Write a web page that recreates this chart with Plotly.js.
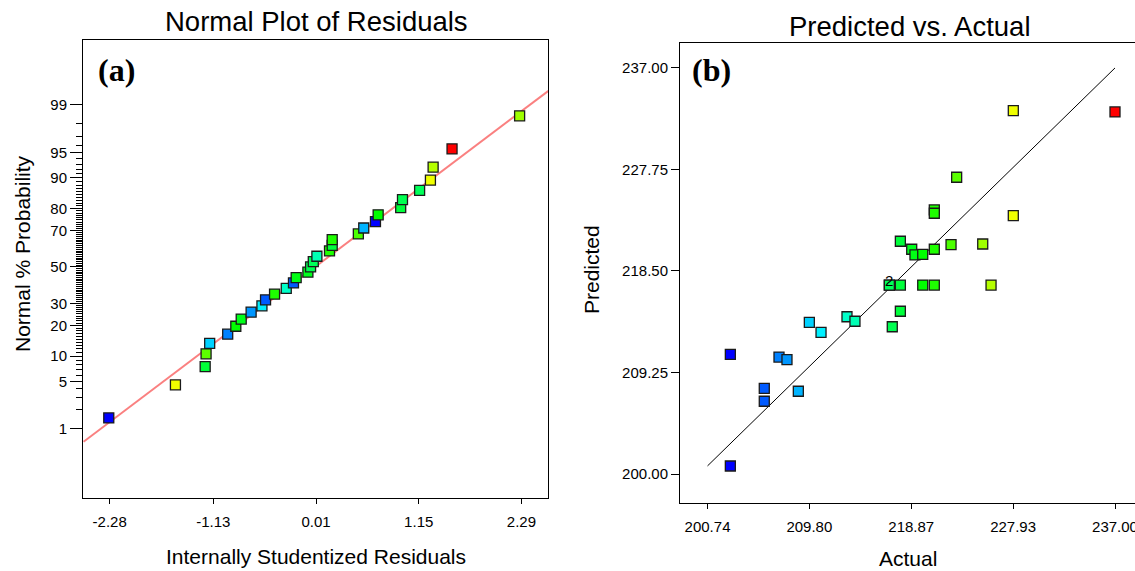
<!DOCTYPE html>
<html>
<head>
<meta charset="utf-8">
<script src="https://cdn.plot.ly/plotly-3.0.1.min.js"></script>
<style>html,body{margin:0;padding:0;background:#fff;}#chart{width:1135px;height:571px;}</style>
</head>
<body>
<div id="chart"></div>
<script>
// ---------- Panel (a): Normal plot of residuals ----------
const residX = [-2.29, -1.55, -1.22, -1.21, -1.17, -0.97, -0.88, -0.82, -0.71, -0.59, -0.55,
  -0.45, -0.32, -0.24, -0.21, -0.08, -0.05, -0.02, 0.02, 0.16, 0.19, 0.19, 0.48, 0.54,
  0.67, 0.70, 0.95, 0.97, 1.16, 1.28, 1.31, 1.52, 2.27];
const residPct = [1.5, 4.5, 7.6, 10.6, 13.6, 16.7, 19.7, 22.7, 25.8, 28.8, 31.8,
  34.8, 37.9, 40.9, 43.9, 47.0, 50.0, 53.0, 56.1, 59.1, 62.1, 65.2, 68.2, 71.2,
  74.2, 77.3, 80.3, 83.3, 86.4, 89.4, 92.4, 95.5, 98.5];
const residActual = [202.77, 227.95, 218.0, 223.0, 209.8, 207.1, 219.9, 219.0, 207.8, 210.8, 205.79,
  220.9, 213.15, 205.79, 219.2, 218.9, 217.2, 216.9, 213.86, 220.9, 217.9, 220.9, 222.4, 208.8,
  202.77, 219.9, 217.9, 217.2, 216.9, 227.95, 225.97, 237.0, 225.2];
const normLineX = [-2.57, 2.59];
const normLinePct = [0.6, 99.43];
const probTickPct = [1, 5, 10, 20, 30, 50, 70, 80, 90, 95, 99];
const residTickVals = [-2.28, -1.13, 0.01, 1.15, 2.29];
const residTickText = ["-2.28", "-1.13", "0.01", "1.15", "2.29"];

// ---------- Panel (b): Predicted vs. Actual ----------
const actual = [202.77, 202.77, 205.79, 205.79, 207.10, 207.81, 208.82, 209.80, 210.84, 213.15,
  213.86, 216.92, 216.92, 217.18, 217.90, 217.90, 217.90, 218.91, 219.20, 219.89, 219.89,
  220.92, 220.92, 220.92, 220.92, 222.41, 222.91, 225.23, 225.97, 227.95, 227.95, 237.00];
const predicted = [210.91, 200.73, 207.81, 206.63, 210.66, 210.42, 207.54, 213.82, 212.91, 214.33,
  213.92, 217.22, 217.22, 213.42, 221.21, 217.22, 214.83, 220.48, 219.96, 220.02, 217.22,
  224.06, 223.76, 220.48, 217.22, 220.91, 227.04, 220.96, 217.22, 233.11, 223.54, 232.99];
const refLine = [200.74, 237.00];
const actualTicks = [200.74, 209.80, 218.87, 227.93, 237.00];
const actualTickText = ["200.74", "209.80", "218.87", "227.93", "237.00"];
const predTicks = [200.00, 209.25, 218.50, 227.75, 237.00];
const predTickText = ["200.00", "209.25", "218.50", "227.75", "237.00"];
const dupPointLabel = {x: 216.92, y: 217.22, text: "2"};

// inverse normal CDF (Acklam)
function probit(p) {
  const a = [-3.969683028665376e+01, 2.209460984245205e+02, -2.759285104469687e+02, 1.383577518672690e+02, -3.066479806614716e+01, 2.506628277459239e+00];
  const b = [-5.447609879822406e+01, 1.615858368580409e+02, -1.556989798598866e+02, 6.680131188771972e+01, -1.328068155288572e+01];
  const c = [-7.784894002430293e-03, -3.223964580411365e-01, -2.400758277161838e+00, -2.549732539343734e+00, 4.374664141464968e+00, 2.938163982698783e+00];
  const d = [7.784695709041462e-03, 3.224671290700398e-01, 2.445134137142996e+00, 3.754408661907416e+00];
  const pl = 0.02425, ph = 1 - pl;
  let q, r;
  if (p < pl) { q = Math.sqrt(-2 * Math.log(p)); return (((((c[0]*q+c[1])*q+c[2])*q+c[3])*q+c[4])*q+c[5]) / ((((d[0]*q+d[1])*q+d[2])*q+d[3])*q+1); }
  if (p <= ph) { q = p - 0.5; r = q*q; return (((((a[0]*r+a[1])*r+a[2])*r+a[3])*r+a[4])*r+a[5])*q / (((((b[0]*r+b[1])*r+b[2])*r+b[3])*r+b[4])*r+1); }
  q = Math.sqrt(-2 * Math.log(1 - p));
  return -(((((c[0]*q+c[1])*q+c[2])*q+c[3])*q+c[4])*q+c[5]) / ((((d[0]*q+d[1])*q+d[2])*q+d[3])*q+1);
}
const z = pct => probit(pct / 100);

// all probability ticks (major labelled, minor unlabelled) on the native axis
const allPct = [];
for (let p = 1; p <= 99; p++) allPct.push(p);
const allTickVals = allPct.map(z);
const allTickText = allPct.map(p => probTickPct.indexOf(p) >= 0 ? String(p) : '');

const W = 1135, H = 571;
const cmin = Math.min(...actual), cmax = Math.max(...actual);
const rainbow = [[0, '#0000ff'], [0.25, '#00ffff'], [0.5, '#00ff00'], [0.75, '#ffff00'], [1, '#ff0000']];
const FONT = 'Liberation Sans, Arial, sans-serif';

const markerBase = {symbol: 'square', size: 10, colorscale: rainbow, cmin: cmin, cmax: cmax,
  showscale: false, line: {color: '#1a1a1a', width: 1.3}};

const traces = [
  {x: normLineX, y: normLinePct.map(z), mode: 'lines', xaxis: 'x', yaxis: 'y3',
   line: {color: 'rgba(0,0,0,0)', width: 0}, showlegend: false},
  {x: normLineX, y: normLinePct.map(z), mode: 'lines', xaxis: 'x', yaxis: 'y',
   line: {color: 'rgb(250,128,128)', width: 2}, showlegend: false},
  {x: residX, y: residPct.map(z), mode: 'markers', xaxis: 'x', yaxis: 'y',
   marker: Object.assign({}, markerBase, {color: residActual}), showlegend: false},
  {x: refLine, y: refLine, mode: 'lines', xaxis: 'x2', yaxis: 'y2',
   line: {color: '#000', width: 1}, showlegend: false},
  {x: actual, y: predicted, mode: 'markers', xaxis: 'x2', yaxis: 'y2',
   marker: Object.assign({}, markerBase, {color: actual}), showlegend: false}
];

const axCommon = {showline: true, linecolor: '#000', linewidth: 1, mirror: true, showgrid: false,
  zeroline: false, ticks: 'outside', tickcolor: '#000', tickfont: {family: FONT, size: 15, color: '#000'},
  tickmode: 'array'};

const yRangeA = [-3.32, 3.26];

const layout = {
  width: W, height: H, margin: {l: 0, r: 0, t: 0, b: 0},
  paper_bgcolor: '#fff', plot_bgcolor: '#fff', showlegend: false,
  xaxis: Object.assign({}, axCommon, {domain: [83 / W, 548 / W], range: [-2.576, 2.585], anchor: 'y',
    tickvals: residTickVals, ticktext: residTickText, ticklen: 5, ticklabelstandoff: 5}),
  yaxis: Object.assign({}, axCommon, {domain: [1 - 498 / H, 1 - 40 / H], range: yRangeA, anchor: 'x',
    tickvals: allTickVals, ticktext: allTickText, ticklen: 6, ticklabelstandoff: 6}),
  yaxis3: {overlaying: 'y', anchor: 'x', side: 'left', range: yRangeA, tickmode: 'array',
    tickvals: probTickPct.map(z), ticktext: probTickPct.map(() => ''), ticks: 'outside', ticklen: 12,
    tickcolor: '#000', tickwidth: 1, showline: false, showgrid: false, zeroline: false},
  xaxis2: Object.assign({}, axCommon, {domain: [680 / W, 1], range: [198.29, 238.78], anchor: 'y2',
    tickvals: actualTicks, ticktext: actualTickText, ticklen: 5, ticklabelstandoff: 5, ticklabeloverflow: 'allow'}),
  yaxis2: Object.assign({}, axCommon, {domain: [1 - 503 / H, 1 - 42.7 / H], range: [197.36, 239.30], anchor: 'x2',
    tickvals: predTicks, ticktext: predTickText, ticklen: 8}),
  annotations: [
    {text: 'Normal Plot of Residuals', x: 316 / W, y: 1 - 22 / H, xref: 'paper', yref: 'paper', showarrow: false,
     xanchor: 'center', yanchor: 'middle', font: {family: FONT, size: 27.5, color: '#000'}},
    {text: 'Predicted vs. Actual', x: 910 / W, y: 1 - 27 / H, xref: 'paper', yref: 'paper', showarrow: false,
     xanchor: 'center', yanchor: 'middle', font: {family: FONT, size: 27.5, color: '#000'}},
    {text: 'Normal % Probability', x: 22 / W, y: 1 - 254 / H, xref: 'paper', yref: 'paper', showarrow: false,
     textangle: -90, xanchor: 'center', yanchor: 'middle', font: {family: FONT, size: 21, color: '#000'}},
    {text: 'Internally Studentized Residuals', x: 316 / W, y: 1 - 556 / H, xref: 'paper', yref: 'paper', showarrow: false,
     xanchor: 'center', yanchor: 'middle', font: {family: FONT, size: 21, color: '#000'}},
    {text: 'Predicted', x: 592 / W, y: 1 - 270 / H, xref: 'paper', yref: 'paper', showarrow: false,
     textangle: -90, xanchor: 'center', yanchor: 'middle', font: {family: FONT, size: 21, color: '#000'}},
    {text: 'Actual', x: 908 / W, y: 1 - 558 / H, xref: 'paper', yref: 'paper', showarrow: false,
     xanchor: 'center', yanchor: 'middle', font: {family: FONT, size: 21, color: '#000'}},
    {text: '<b>(a)</b>', x: 117 / W, y: 1 - 70 / H, xref: 'paper', yref: 'paper', showarrow: false,
     xanchor: 'center', yanchor: 'middle', font: {family: 'Liberation Serif, Times New Roman, serif', size: 32, color: '#000'}},
    {text: '<b>(b)</b>', x: 712 / W, y: 1 - 70 / H, xref: 'paper', yref: 'paper', showarrow: false,
     xanchor: 'center', yanchor: 'middle', font: {family: 'Liberation Serif, Times New Roman, serif', size: 32, color: '#000'}},
    {text: dupPointLabel.text, x: dupPointLabel.x, y: dupPointLabel.y, xref: 'x2', yref: 'y2', showarrow: false,
     xanchor: 'center', yanchor: 'middle', yshift: 5, font: {family: FONT, size: 15, color: '#000'}}
  ]
};

Plotly.newPlot('chart', traces, layout, {staticPlot: true, displayModeBar: false});
</script>
</body>
</html>
